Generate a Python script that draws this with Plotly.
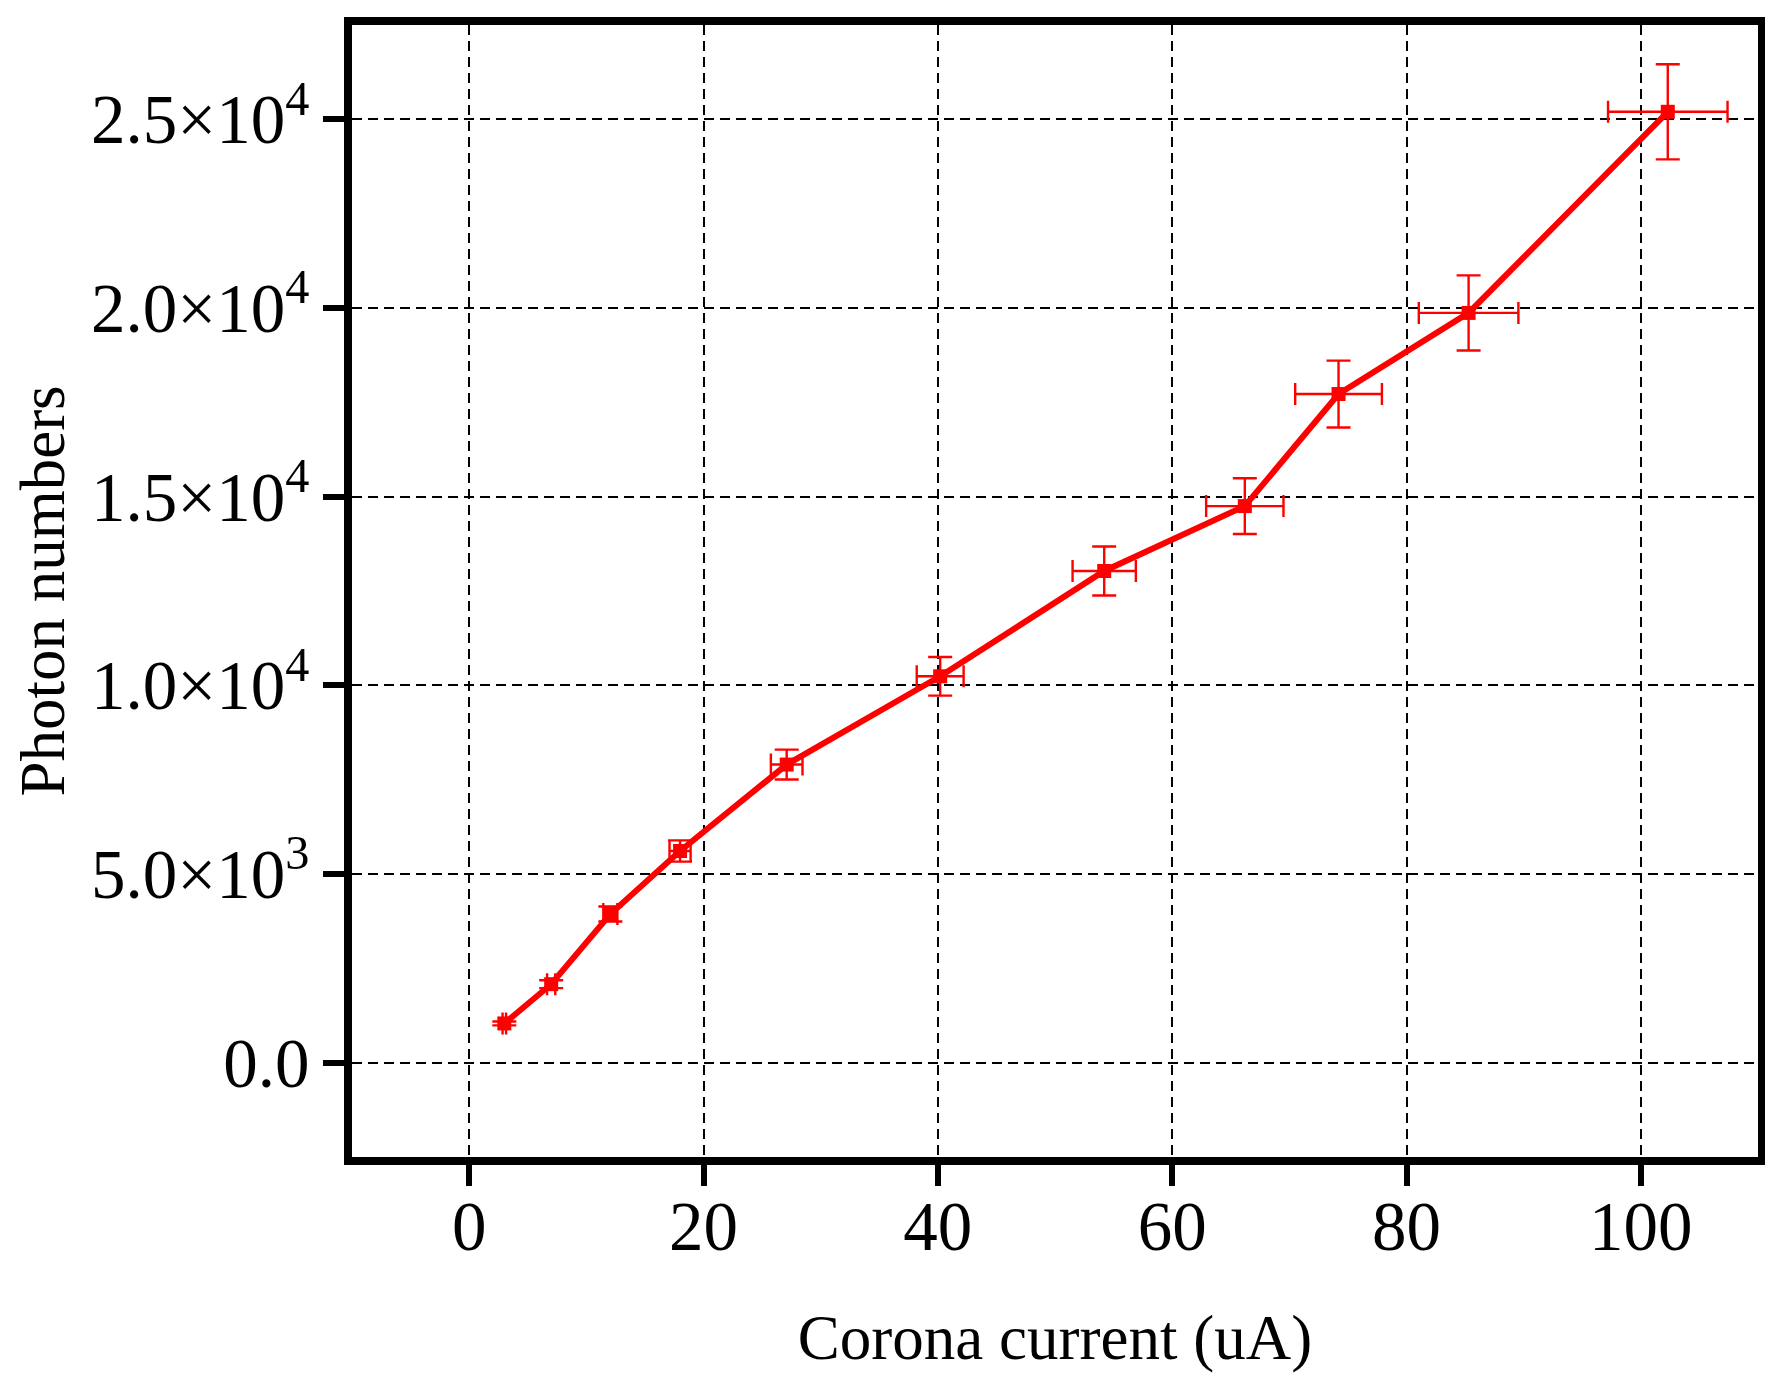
import plotly.graph_objects as go

# Data
current_uA = [3.0, 7.0, 12.05, 18.0, 27.1, 40.2, 54.2, 66.2, 74.2, 85.3, 102.3]
photons = [1040, 2080, 3940, 5610, 7900, 10240, 13030, 14750, 17720, 19870, 25200]
current_err = [0.15, 0.35, 0.6, 0.9, 1.35, 2.0, 2.7, 3.3, 3.7, 4.25, 5.1]
photons_err = [52, 104, 197, 281, 395, 512, 650, 738, 886, 995, 1260]

x_tickvals = [0, 20, 40, 60, 80, 100]
x_ticktext = ["0", "20", "40", "60", "80", "100"]
y_tickvals = [0, 5000, 10000, 15000, 20000, 25000]
y_ticktext = ["0.0", "5.0×10<sup>3</sup>", "1.0×10<sup>4</sup>", "1.5×10<sup>4</sup>",
              "2.0×10<sup>4</sup>", "2.5×10<sup>4</sup>"]

RED = "#ff0000"
FONT = "Liberation Serif"

fig = go.Figure()
fig.add_trace(go.Scatter(
    x=current_uA, y=photons,
    mode="lines+markers",
    line=dict(color=RED, width=6),
    marker=dict(symbol="square", size=14, color=RED),
    error_x=dict(type="data", array=current_err, visible=True, color=RED,
                 thickness=2.4, width=11),
    error_y=dict(type="data", array=photons_err, visible=True, color=RED,
                 thickness=2.4, width=12),
    showlegend=False,
))

axis_common = dict(
    showline=True, linecolor="black", linewidth=7.5, mirror=True,
    ticks="outside", ticklen=21, tickwidth=6, tickcolor="black",
    showgrid=True, gridcolor="black", gridwidth=2.3, griddash="10px,6px",
    zeroline=False,
    tickfont=dict(family=FONT, size=69, color="black"),
)

fig.update_xaxes(
    range=[-10, 110], tickmode="array", tickvals=x_tickvals, ticktext=x_ticktext,
    ticklabelstandoff=-19,
    title=dict(text="Corona current (uA)", font=dict(family=FONT, size=63, color="black"),
               standoff=54),
    automargin=False,
    **axis_common,
)
fig.update_yaxes(
    range=[-2500, 27500], tickmode="array", tickvals=y_tickvals, ticktext=y_ticktext,
    title=dict(text="Photon numbers", font=dict(family=FONT, size=63, color="black"),
               standoff=30),
    automargin=False,
    **axis_common,
)

fig.update_layout(
    width=1773, height=1380,
    margin=dict(l=344, r=23, t=17, b=231),
    paper_bgcolor="white", plot_bgcolor="white",
    font=dict(family=FONT, color="black"),
)

fig.write_html("out.html")
